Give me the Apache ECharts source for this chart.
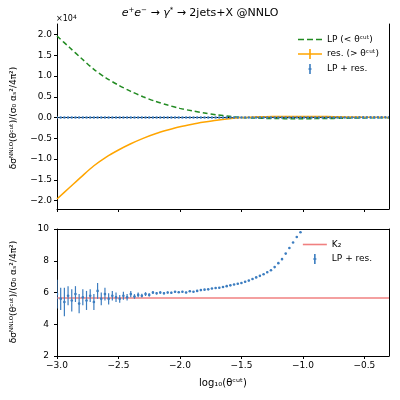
<!DOCTYPE html>
<html><head><meta charset="utf-8">
<script src="https://cdn.jsdelivr.net/npm/echarts@6/dist/echarts.min.js"></script>
<style>html,body{margin:0;padding:0;background:#fff}#c{width:400px;height:400px}</style>
</head><body><div id="c"></div>
<script>
var curveX = [-3.0,-2.9,-2.8,-2.7,-2.6,-2.5,-2.4,-2.3,-2.2,-2.1,-2.0,-1.9,-1.8,-1.7,-1.6,-1.5,-1.4,-1.3,-1.2,-1.1,-1.0,-0.9,-0.8,-0.7,-0.6,-0.5,-0.4,-0.3];
var lpVals = [19600,16900,14200,11600,9500,7800,6300,5000,3900,3000,2200,1600,1100,650,300,20,-120,-200,-250,-270,-275,-260,-225,-180,-130,-85,-55,-30];
var resVals = [-19600,-16900,-14200,-11600,-9500,-7800,-6300,-5000,-3900,-3000,-2200,-1600,-1100,-650,-300,-20,120,200,250,270,275,260,225,180,130,85,55,30];
var ptX = [-3.00,-2.97,-2.94,-2.91,-2.88,-2.85,-2.82,-2.79,-2.76,-2.73,-2.70,-2.67,-2.64,-2.61,-2.58,-2.55,-2.52,-2.49,-2.46,-2.43,-2.40,-2.37,-2.34,-2.31,-2.28,-2.25,-2.22,-2.19,-2.16,-2.13,-2.10,-2.07,-2.04,-2.01,-1.98,-1.95,-1.92,-1.89,-1.86,-1.83,-1.80,-1.77,-1.74,-1.71,-1.68,-1.65,-1.62,-1.59,-1.56,-1.53,-1.50,-1.47,-1.44,-1.41,-1.38,-1.35,-1.32,-1.29,-1.26,-1.23,-1.20,-1.17,-1.14,-1.11,-1.08,-1.05,-1.02,-0.99,-0.96,-0.93,-0.90,-0.87,-0.84,-0.81,-0.78,-0.75,-0.72,-0.69,-0.66,-0.63,-0.60,-0.57,-0.54,-0.51,-0.48,-0.45,-0.42,-0.39,-0.36,-0.33,-0.30];
var ptY = [5.9,5.6,5.4,5.8,5.5,5.9,5.3,5.7,5.5,5.8,5.4,6.1,5.6,5.9,5.6,5.8,5.7,5.6,5.8,5.7,5.9,5.75,5.85,5.8,5.9,5.85,6.0,5.95,6.0,5.95,6.0,5.98,6.05,6.02,6.05,6.0,6.08,6.05,6.1,6.15,6.18,6.2,6.25,6.28,6.3,6.35,6.4,6.45,6.5,6.55,6.6,6.68,6.75,6.85,6.95,7.05,7.15,7.28,7.4,7.6,7.85,8.1,8.45,8.8,9.15,9.5,9.8,10.1,10.6,11.2,12,12.8,13.7,14.7,15.8,17,18.3,19.7,21.2,22.8,24.5,26.3,28.2,30.2,32.3,34.5,36.8,39.2,41.7,44.3,47];
var ptErr = [0.9,0.7,0.9,0.6,0.7,0.5,0.6,0.5,0.6,0.4,0.5,0.5,0.4,0.4,0.35,0.3,0.3,0.25,0.25,0.2,0.2,0.15,0.15,0.12,0.12,0.1,0.1,0.08,0.08,0.07,0.06,0.06,0.05,0.05,0.05,0.04,0.04,0.04,0.04,0.03,0.03,0.03,0.03,0.03,0.03,0.03,0.03,0.03,0.03,0.03,0.03,0.03,0.03,0.03,0.03,0.03,0.03,0.03,0.03,0.03,0.03,0.03,0.03,0.03,0.03,0.03,0.03,0.03,0.03,0.03,0.03,0.03,0.03,0.03,0.03,0.03,0.03,0.03,0.03,0.03,0.03,0.03,0.03,0.03,0.03,0.03,0.03,0.03,0.03,0.03,0.03];
var K2 = 5.65;
var topTicks = [-20000,-15000,-10000,-5000,0,5000,10000,15000,20000];
var xTicks = [-3.0,-2.5,-2.0,-1.5,-1.0,-0.5];

var BLUE = '#3c7dc0', FONT = 'DejaVu Sans';
function zip(a,b){return a.map(function(v,i){return [v,b[i]];});}
var errData = ptX.map(function(x,i){return [x,ptY[i],ptErr[i]];});
function errRender(params, api){
  var x=api.value(0), y=api.value(1), e=api.value(2);
  var p0=api.coord([x,y-e]), p1=api.coord([x,y+e]), c=api.coord([x,y]);
  return {type:'group',children:[
    {type:'line',shape:{x1:p0[0],y1:p0[1],x2:p1[0],y2:p1[1]},style:{stroke:BLUE,lineWidth:1.2}},
    {type:'circle',shape:{cx:c[0],cy:c[1],r:1.3},style:{fill:BLUE}}
  ]};
}
var ICON_LINE='path://M0,4.2L24,4.2L24,5.8L0,5.8Z';
var ICON_DASH='path://M0,4.2L6,4.2L6,5.8L0,5.8Z M9,4.2L15,4.2L15,5.8L9,5.8Z M18,4.2L24,4.2L24,5.8L18,5.8Z';
var ICON_CROSS='path://M0,4.2L24,4.2L24,5.8L12.8,5.8L12.8,10L11.2,10L11.2,5.8L0,5.8Z M11.2,0L12.8,0L12.8,4.2L11.2,4.2Z';
var ICON_ERR='path://M11.2,0L12.8,0L12.8,10L11.2,10Z M10.5,4.3L13.5,4.3L13.5,5.7L10.5,5.7Z';
var grids=[{left:57,right:11,top:24,height:185},{left:57,right:11,top:229,height:127}];
var axLbl={color:'#000',fontFamily:FONT,fontSize:9};
function xa(gi,show){return {type:'value',gridIndex:gi,min:-3,max:-0.3,
  axisLine:{show:true,onZero:false,lineStyle:{color:'#000',width:1}},
  axisTick:{show:true,customValues:xTicks,length:3,lineStyle:{color:'#000'}},
  axisLabel:show?{show:true,customValues:xTicks,color:'#000',fontFamily:FONT,fontSize:9,margin:5,formatter:function(v){return (v<0?'\u2212':'')+Math.abs(v).toFixed(1);}}:{show:false},
  splitLine:{show:false}};}
function frameX(gi){return {type:'value',gridIndex:gi,position:'top',min:-3,max:-0.3,axisLine:{show:true,lineStyle:{color:'#000'}},axisTick:{show:false},axisLabel:{show:false},splitLine:{show:false}};}
function frameY(gi,mn,mx){return {type:'value',gridIndex:gi,position:'right',min:mn,max:mx,axisLine:{show:true,lineStyle:{color:'#000'}},axisTick:{show:false},axisLabel:{show:false},splitLine:{show:false}};}
var chart=echarts.init(document.getElementById('c'),null,{renderer:'canvas'});
var YL='\u03b4\u03c3\u1d3a\u1d3a\u1d38\u1d3c(\u03b8\u1d9c\u1d58\u1d57)/(\u03c3\u2080 \u03b1\u209b\u00b2/4\u03c0\u00b2)';
chart.setOption({
  animation:false,
  backgroundColor:'#fff',
  title:{text:'{i|e}{s|+}{i|e}{s|\u2212} \u2192 {i|\u03b3}{s|*} \u2192 2jets+X @NNLO',left:'center',top:2,
    textStyle:{rich:{i:{fontStyle:'italic',fontFamily:FONT,fontSize:11,color:'#000'},s:{fontSize:7,verticalAlign:'top',fontFamily:FONT,color:'#000',padding:[0,0,6,0]}},fontFamily:FONT,fontSize:11,color:'#000',fontWeight:'normal'}},
  grid:grids,
  xAxis:[xa(0,false),xa(1,true),frameX(0),frameX(1)],
  yAxis:[
    {type:'value',gridIndex:0,min:-22000,max:22500,axisLine:{show:true,lineStyle:{color:'#000'}},
     axisTick:{show:true,customValues:topTicks,length:3,lineStyle:{color:'#000'}},
     axisLabel:{customValues:topTicks,color:'#000',fontFamily:FONT,fontSize:9,margin:5,formatter:function(v){var s=(v/1e4).toFixed(1);return s.replace('-','\u2212');}},splitLine:{show:false}},
    {type:'value',gridIndex:1,min:2,max:10,interval:2,axisLine:{show:true,lineStyle:{color:'#000'}},
     axisTick:{show:true,length:3,lineStyle:{color:'#000'}},axisLabel:axLbl,splitLine:{show:false}},
    frameY(0,-22000,22500),frameY(1,2,10)
  ],
  legend:[
    {top:30,right:16,orient:'vertical',itemWidth:24,itemHeight:10,itemGap:5,textStyle:{fontFamily:FONT,fontSize:9,color:'#000'},
     data:[{name:'LP (< \u03b8\u1d9c\u1d58\u1d57)',icon:ICON_DASH},{name:'res. (> \u03b8\u1d9c\u1d58\u1d57)',icon:ICON_CROSS},{name:'LP + res.',icon:ICON_ERR}]},
    {top:235,right:20,orient:'vertical',itemWidth:24,itemHeight:10,itemGap:5,textStyle:{fontFamily:FONT,fontSize:9,color:'#000'},
     data:[{name:'K\u2082',icon:ICON_LINE},{name:'LP + res. ',icon:ICON_ERR}]}
  ],
  series:[
    {name:'LP (< \u03b8\u1d9c\u1d58\u1d57)',type:'line',xAxisIndex:0,yAxisIndex:0,data:zip(curveX,lpVals),smooth:0.3,symbol:'none',lineStyle:{color:'#228b22',width:1.5,type:[5,3]},itemStyle:{color:'#228b22'}},
    {name:'res. (> \u03b8\u1d9c\u1d58\u1d57)',type:'line',xAxisIndex:0,yAxisIndex:0,data:zip(curveX,resVals),smooth:0.3,symbol:'none',lineStyle:{color:'#ffa500',width:1.5},itemStyle:{color:'#ffa500'}},
    {name:'LP + res.',type:'custom',xAxisIndex:0,yAxisIndex:0,data:errData,renderItem:errRender,itemStyle:{color:BLUE},clip:true,z:5},
    {name:'K\u2082',type:'line',xAxisIndex:1,yAxisIndex:1,data:[[-3,K2],[-0.3,K2]],symbol:'none',lineStyle:{color:'#f08080',width:1.5},itemStyle:{color:'#f08080'}},
    {name:'LP + res. ',type:'custom',xAxisIndex:1,yAxisIndex:1,data:errData,renderItem:errRender,itemStyle:{color:BLUE},clip:true,z:5}
  ],
  graphic:[
    {type:'text',left:56,top:14,style:{text:'\u00d710{s|4}',fontFamily:FONT,fontSize:8,fill:'#000',rich:{s:{fontSize:6,verticalAlign:'top',padding:[0,0,4,0],fontFamily:FONT}}}},
    {type:'text',x:14,y:118,rotation:Math.PI/2,style:{text:YL,fontFamily:FONT,fontSize:9,fill:'#000',align:'center',verticalAlign:'middle'}},
    {type:'text',x:14,y:292,rotation:Math.PI/2,style:{text:YL,fontFamily:FONT,fontSize:9,fill:'#000',align:'center',verticalAlign:'middle'}},
    {type:'text',x:223,y:383,style:{text:'log\u2081\u2080(\u03b8\u1d9c\u1d58\u1d57)',fontFamily:FONT,fontSize:10,fill:'#000',align:'center',verticalAlign:'middle'}}
  ]
});
</script></body></html>
